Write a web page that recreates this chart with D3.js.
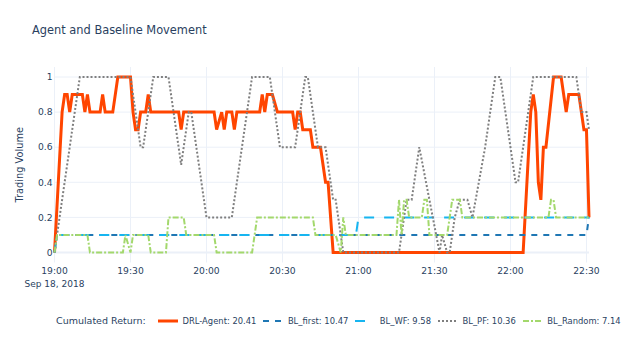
<!DOCTYPE html>
<html>
<head>
<meta charset="utf-8">
<script src="https://cdn.jsdelivr.net/npm/d3@7"></script>
<style>
  body { margin: 0; background: #fff; }
  text { font-family: "DejaVu Sans", Verdana, sans-serif; fill: #2a3f5f; }
</style>
</head>
<body>
<div id="chart"></div>
<script>
// minutes after 19:00 on Sep 18, 2018 -> trading volume (line vertices)
const drlAgent = [[0,0],[3,0.8],[4,0.9],[5,0.9],[6,0.8],[7,0.9],[11,0.9],[12,0.8],[13,0.9],[14,0.8],[18,0.8],[19,0.9],[20,0.8],[23,0.8],[25,1],[30,1],[31,0.8],[32,0.7],[33,0.7],[34,0.8],[36,0.8],[37,0.9],[38,0.8],[49,0.8],[50,0.7],[51,0.8],[63,0.8],[64,0.7],[66,0.8],[67,0.7],[68,0.8],[70,0.8],[71,0.7],[72,0.8],[81,0.8],[82,0.9],[83,0.8],[84,0.9],[86,0.9],[88,0.8],[94,0.8],[95,0.7],[96,0.8],[97,0.8],[98,0.7],[101,0.7],[102,0.6],[105,0.6],[107,0.4],[108,0.4],[110,0],[185,0],[188,0.8],[189,0.9],[190,0.8],[191,0.4],[192,0.3],[193,0.6],[194,0.6],[197,1],[200,1],[202,0.8],[203,0.9],[207,0.9],[209,0.7],[210,0.7],[211,0.2]];
const blFirst = [[0,0],[1,0.1],[210,0.1],[211,0.2]];
const blWF = [[0,0],[1,0.1],[119,0.1],[120,0.2],[211,0.2]];
const blPF = [[0,0],[10,1],[30,1],[34,0.6],[35,0.6],[39,1],[45,1],[50,0.5],[53,0.8],[54,0.8],[60,0.2],[70,0.2],[78,1],[85,1],[89,0.6],[95,0.6],[99,1],[100,1],[104,0.6],[107,0.6],[110,0.3],[111,0.3],[114,0],[136,0],[139,0.3],[141,0.3],[144,0.6],[152,0],[153,0.1],[155,0],[156,0],[158,0.2],[160,0.3],[163,0.3],[165,0.2],[170,0.6],[174,1],[176,1],[182,0.4],[183,0.4],[189,1],[206,1],[208,0.8],[210,0.8],[211,0.7]];
const blRandom = [[0,0],[1,0.1],[13,0.1],[14,0],[27,0],[28,0.1],[30,0],[31,0.1],[37,0.1],[38,0],[44,0],[45,0.2],[51,0.2],[52,0.1],[63,0.1],[64,0],[78,0],[80,0.2],[102,0.2],[103,0.1],[111,0.1],[113,0],[114,0.2],[115,0.1],[135,0.1],[136,0.3],[137,0.1],[138,0.3],[139,0.3],[140,0.2],[145,0.2],[146,0.3],[147,0.3],[148,0.1],[155,0.1],[157,0.3],[160,0.3],[161,0.2],[195,0.2],[196,0.3],[197,0.3],[198,0.2],[211,0.2]];

const seriesNames = ["DRL-Agent", "BL_first", "BL_WF", "BL_PF", "BL_Random"];
const cumReturns = [20.41, 10.47, 9.58, 10.36, 7.14];
const yTicks = [0, 0.2, 0.4, 0.6, 0.8, 1];

const styles = [
  { color: "#ff4500", width: 3, dash: null },
  { color: "#1f77b4", width: 2, dash: "6,6" },
  { color: "#17b5f0", width: 2, dash: "10,10" },
  { color: "#7f7f7f", width: 2, dash: "2,2" },
  { color: "#a3d86c", width: 2, dash: "6,2,2,2" }
];

const W = 644, H = 339;
const plot = { left: 54.5, right: 589, top: 67, bottom: 262.5 };
const t0 = new Date(2018, 8, 18, 19, 0);
const toTime = m => new Date(t0.getTime() + m * 60000);

const svg = d3.select("#chart").append("svg")
  .attr("width", W).attr("height", H);
svg.append("rect").attr("width", W).attr("height", H).attr("fill", "#fff");

const x = d3.scaleTime().domain([t0, toTime(211)]).range([plot.left, plot.right]);
const y = d3.scaleLinear().domain([0, 1]).range([252.5, 77]);

// grid
const xTicks = d3.timeMinute.every(30).range(t0, toTime(212));
svg.append("g").selectAll("line").data(xTicks).enter().append("line")
  .attr("x1", d => x(d)).attr("x2", d => x(d))
  .attr("y1", plot.top).attr("y2", plot.bottom)
  .attr("stroke", "#ebf0f8").attr("stroke-width", 1);
svg.append("g").selectAll("line").data(yTicks).enter().append("line")
  .attr("x1", plot.left).attr("x2", plot.right)
  .attr("y1", d => y(d)).attr("y2", d => y(d))
  .attr("stroke", "#ebf0f8").attr("stroke-width", d => d === 0 ? 2 : 1);

// y tick labels
svg.append("g").selectAll("text").data(yTicks).enter().append("text")
  .attr("x", 52.5).attr("y", d => y(d)).attr("dy", "0.35em")
  .attr("text-anchor", "end").style("font-size", "9.2px")
  .text(d => d3.format("~g")(d));

// x tick labels
const fmt = d3.timeFormat("%H:%M");
svg.append("g").selectAll("text").data(xTicks).enter().append("text")
  .attr("x", d => x(d)).attr("y", 274)
  .attr("text-anchor", "middle").style("font-size", "9.2px")
  .text(d => fmt(d));
svg.append("text").attr("x", x(t0)).attr("y", 287)
  .attr("text-anchor", "middle").style("font-size", "9px")
  .text("Sep 18, 2018");

// axis title
svg.append("text")
  .attr("transform", `translate(23,${(y(0) + y(1)) / 2}) rotate(-90)`)
  .attr("text-anchor", "middle").style("font-size", "9.8px")
  .text("Trading Volume");

// title
svg.append("text").attr("x", 32).attr("y", 34)
  .style("font-size", "11.4px")
  .text("Agent and Baseline Movement");

// lines
const line = d3.line().x(d => x(toTime(d[0]))).y(d => y(d[1]));
const allSeries = [drlAgent, blFirst, blWF, blPF, blRandom];
allSeries.forEach((s, i) => {
  svg.append("path").datum(s)
    .attr("d", line)
    .attr("fill", "none")
    .attr("stroke", styles[i].color)
    .attr("stroke-width", styles[i].width)
    .attr("stroke-dasharray", styles[i].dash);
});

// legend
const legY = 321;
svg.append("text").attr("x", 56).attr("y", legY).attr("dy", "0.35em")
  .style("font-size", "9.5px").text("Cumulated Return:");
let lx = 158;
seriesNames.forEach((name, i) => {
  svg.append("line")
    .attr("x1", Math.round(lx)).attr("x2", Math.round(lx) + 20).attr("y1", legY).attr("y2", legY)
    .attr("stroke", styles[i].color)
    .attr("stroke-width", styles[i].width)
    .attr("stroke-dasharray", styles[i].dash);
  const t = svg.append("text").attr("x", lx + 24.5).attr("y", legY).attr("dy", "0.35em")
    .style("font-size", "8.4px")
    .text(`${name}: ${cumReturns[i]}`);
  lx += 24.5 + t.node().getComputedTextLength() + 7;
});
</script>
</body>
</html>
